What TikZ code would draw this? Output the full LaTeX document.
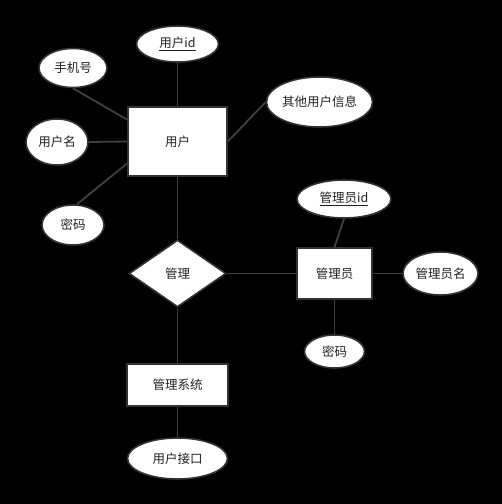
\documentclass[tikz,border=0pt]{standalone}
\usepackage{fontspec}
\newfontfamily\cjk{Noto Sans CJK SC}
\usetikzlibrary{shapes.geometric,calc}
\definecolor{edgegray}{HTML}{404040}
\definecolor{bordergray}{HTML}{333333}
\definecolor{txt}{HTML}{222222}
\tikzset{
  ent/.style={draw=bordergray, line width=1.6pt, fill=white, inner sep=0pt, text=txt, font=\cjk\fontsize{12.5}{14}\selectfont},
  attr/.style={ellipse, draw=bordergray, line width=1.6pt, fill=white, inner sep=0pt, text=txt, font=\cjk\fontsize{12.5}{14}\selectfont},
  rel/.style={diamond, draw=bordergray, line width=1.6pt, fill=white, inner sep=0pt, text=txt, font=\cjk\fontsize{12.5}{14}\selectfont},
  conn/.style={draw=edgegray, line width=1.8pt}
}
\begin{document}
\begin{tikzpicture}[x=1pt,y=-1pt]
\fill[black] (0,0) rectangle (502,504);
\useasboundingbox (0,0) rectangle (502,504);
% entities
\node[ent, minimum width=99pt, minimum height=69pt] (user) at (177.5,141.5) {用户};
\node[ent, minimum width=75pt, minimum height=51pt] (admin) at (334.5,273.5) {管理员};
\node[ent, minimum width=101pt, minimum height=42pt] (sys) at (177.5,385) {管理系统};
% relation
\node[rel, minimum width=97pt, minimum height=67pt] (manage) at (177.5,273.5) {管理};
% attributes
\node[attr, minimum width=82pt, minimum height=36pt] (uid) at (177.5,44) {\underline{用户id}};
\node[attr, minimum width=68pt, minimum height=39pt] (phone) at (73,68) {手机号};
\node[attr, minimum width=62pt, minimum height=46pt] (uname) at (57,142) {用户名};
\node[attr, minimum width=62pt, minimum height=40pt] (upwd) at (73,225) {密码};
\node[attr, minimum width=104pt, minimum height=50pt] (other) at (319.5,102) {其他用户信息};
\node[attr, minimum width=94pt, minimum height=38pt] (aid) at (344,199) {\underline{管理员id}};
\node[attr, minimum width=75pt, minimum height=43pt] (aname) at (440.5,273.5) {管理员名};
\node[attr, minimum width=60pt, minimum height=33pt] (apwd) at (334.5,351.5) {密码};
\node[attr, minimum width=100pt, minimum height=41pt] (api) at (177.5,458.5) {用户接口};
% connectors
\draw[conn] (uid.south) -- (user.north);
\draw[conn] (phone.south) -- ($(user.north west)!0.19!(user.south west)$);
\draw[conn] (uname.east) -- (user.west);
\draw[conn] ([xshift=4pt]upwd.north) -- ($(user.north west)!0.81!(user.south west)$);
\draw[conn] (user.east) -- (other.west);
\draw[conn] (user.south) -- (manage.north);
\draw[conn] (manage.east) -- (admin.west);
\draw[conn] (manage.south) -- (sys.north);
\draw[conn] (sys.south) -- (api.north);
\draw[conn] (aid.south) -- (admin.north);
\draw[conn] (admin.east) -- (aname.west);
\draw[conn] (admin.south) -- (apwd.north);
\end{tikzpicture}
\end{document}
